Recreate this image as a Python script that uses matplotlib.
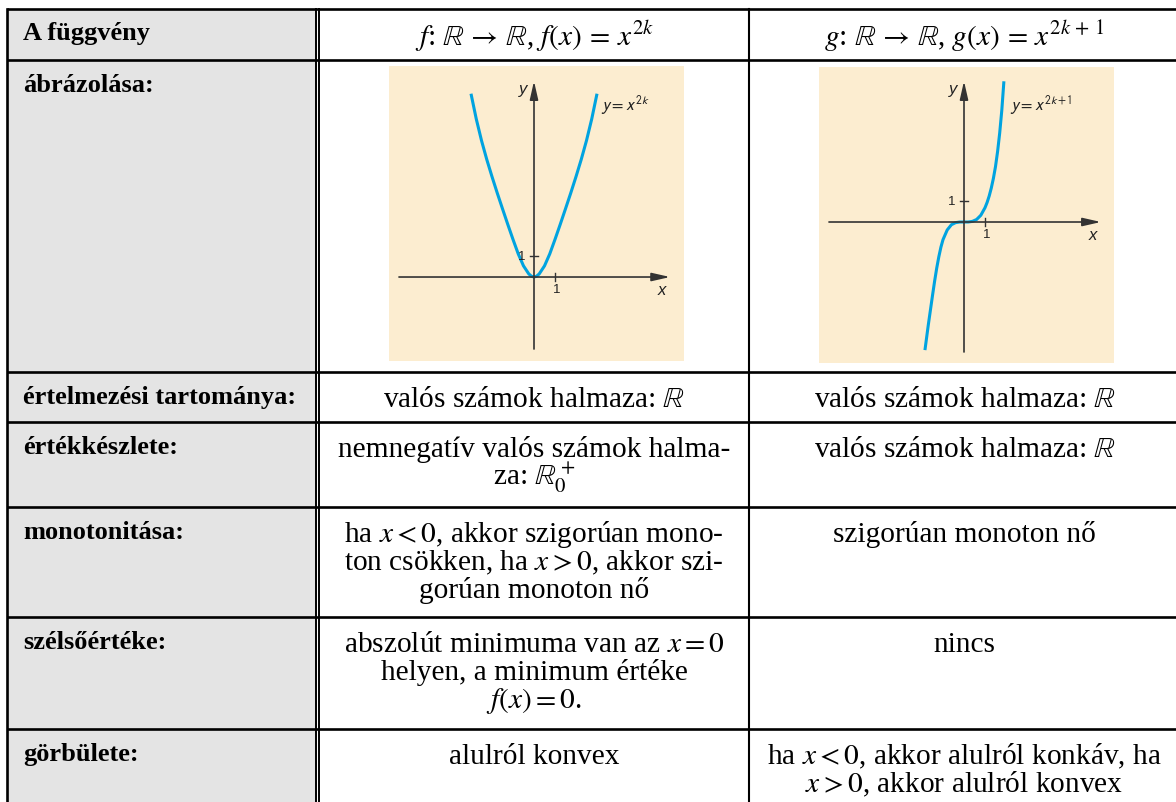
import matplotlib
matplotlib.use("Agg")
import matplotlib.pyplot as plt
from matplotlib.patches import Rectangle

plt.rcParams['font.family'] = ['Liberation Serif', 'DejaVu Serif']
plt.rcParams['mathtext.fontset'] = 'stix'

# --- table content ---
row_labels = ["A függvény", "ábrázolása:", "értelmezési tartománya:", "értékkészlete:",
              "monotonitása:", "szélsőértéke:", "görbülete:"]
head_f = r"$f$: $\mathbb{R} \,\rightarrow\, \mathbb{R}$, $f(x) \,=\, x^{2k}$"
head_g = r"$g$: $\mathbb{R} \,\rightarrow\, \mathbb{R}$, $g(x) \,=\, x^{2k\,+\,1}$"
cells_f = [
    [r"valós számok halmaza: $\mathbb{R}$"],
    ["nemnegatív valós számok halma-", r"za: $\mathbb{R}_0^+$"],
    [r"ha $x < 0$, akkor szigorúan mono-", r"ton csökken, ha $x > 0$, akkor szi-", "gorúan monoton nő"],
    [r"abszolút minimuma van az $x = 0$", "helyen, a minimum értéke", r"$f(x) = 0$."],
    ["alulról konvex"],
]
cells_g = [
    [r"valós számok halmaza: $\mathbb{R}$"],
    [r"valós számok halmaza: $\mathbb{R}$"],
    ["szigorúan monoton nő"],
    ["nincs"],
    [r"ha $x < 0$, akkor alulról konkáv, ha", r"$x > 0$, akkor alulról konvex"],
]

# --- curves (unit = 1 on the axes) ---
even_x = [-3.0, -2.75, -2.5, -2.25, -2.0, -1.75, -1.5, -1.25, -1.0, -0.75, -0.5, -0.25, -0.125, 0,
          0.125, 0.25, 0.5, 0.75, 1.0, 1.25, 1.5, 1.75, 2.0, 2.25, 2.5, 2.75, 3.0]
even_y = [8.73, 7.53, 6.5, 5.6, 4.78, 4.0, 3.25, 2.51, 1.79, 1.1, 0.53, 0.15, 0.04, 0,
          0.04, 0.15, 0.53, 1.1, 1.79, 2.51, 3.25, 4.0, 4.78, 5.6, 6.5, 7.53, 8.73]
odd_x = [-1.86, -1.8, -1.7, -1.6, -1.5, -1.4, -1.3, -1.2, -1.1, -1.0, -0.8, -0.6, -0.4, -0.2, 0,
         0.2, 0.4, 0.6, 0.8, 1.0, 1.1, 1.2, 1.3, 1.4, 1.5, 1.6, 1.7, 1.8, 1.9]
odd_y = [-6.1, -5.65, -4.9, -4.2, -3.5, -2.82, -2.2, -1.66, -1.2, -0.84, -0.38, -0.13, -0.03, 0, 0,
         0, 0.03, 0.12, 0.32, 0.68, 0.93, 1.24, 1.62, 2.08, 2.64, 3.36, 4.24, 5.32, 6.7]

W, H = 1176, 803
fig = plt.figure(figsize=(W / 100, H / 100), dpi=100)
tab = fig.add_axes([0, 0, 1, 1])
tab.set_xlim(0, W)
tab.set_ylim(H, 0)
tab.axis('off')

# table grid (pixel coordinates)
left, top, bottom, right = 7, 10, H, W
col1a, col1b, col2 = 315.7, 319.3, 749
row_lines = [10, 60.7, 372.7, 422.7, 508, 618, 730]

tab.add_patch(Rectangle((left, top), col1a - left, bottom - top, color='#e4e4e4', lw=0, zorder=0))
for y in row_lines:
    tab.plot([left, right], [y, y], color='black', lw=1.9, solid_capstyle='butt')
tab.plot([left, left], [top, bottom], color='black', lw=1.9)
tab.plot([col1a, col1a], [top, bottom], color='black', lw=1.4)
tab.plot([col1b, col1b], [top, bottom], color='black', lw=1.4)
tab.plot([col2, col2], [top, bottom], color='black', lw=1.5)

label_fs, body_fs = 19, 21.2
cf, cg = (col1b + col2) / 2, (col2 + W) / 2 + 2

# header
tab.text(23, 40, row_labels[0], fontsize=label_fs, fontweight='bold', va='baseline')
tab.text(cf, 46, head_f, fontsize=body_fs, ha='center', va='baseline')
tab.text(cg, 46, head_g, fontsize=body_fs, ha='center', va='baseline')

# row labels
for i, lab in enumerate(row_labels[1:]):
    tab.text(23, row_lines[i + 1] + 31, lab, fontsize=label_fs, fontweight='bold', va='baseline')

# body cells
for i, (lf, lg) in enumerate(zip(cells_f, cells_g)):
    y0 = row_lines[i + 2] + 34
    for j, s in enumerate(lf):
        tab.text(cf, y0 + 28 * j, s, fontsize=body_fs, ha='center', va='baseline')
    for j, s in enumerate(lg):
        tab.text(cg, y0 + 28 * j, s, fontsize=body_fs, ha='center', va='baseline')

# --- the two graphs ---
panel_bg = '#fcedd0'
curve_c = '#00a3e0'
axis_c = '#333333'


def graph(box, xlim, ylim, xs, ys, xaxis, yaxis, label, label_pos):
    x0, y0, x1, y1 = box
    ax = fig.add_axes([x0 / W, 1 - y1 / H, (x1 - x0) / W, (y1 - y0) / H])
    ax.set_facecolor(panel_bg)
    for s in ax.spines.values():
        s.set_visible(False)
    ax.set_xticks([])
    ax.set_yticks([])
    ax.set_xlim(*xlim)
    ax.set_ylim(*ylim)
    arrow = dict(arrowstyle='-|>,head_length=1.1,head_width=0.25', color=axis_c,
                 lw=1.2, shrinkA=0, shrinkB=0, mutation_scale=10)
    ax.annotate('', xy=(xaxis[1], 0), xytext=(xaxis[0], 0), arrowprops=arrow)
    ax.annotate('', xy=(0, yaxis[1]), xytext=(0, yaxis[0]), arrowprops=arrow)
    ax.plot([1, 1], [-0.18, 0.18], color=axis_c, lw=1.0)
    ax.plot([-0.18, 0.18], [1, 1], color=axis_c, lw=1.0)
    sans = dict(family=['Liberation Sans', 'DejaVu Sans'], color='#222222')
    ax.text(1.08, -0.56, '1', fontsize=9.5, ha='center', va='center', **sans)
    ax.text(-0.43, 1.0, '1', fontsize=9.5, ha='right', va='center', **sans)
    ax.text(xaxis[1] - 0.4, -0.6, 'x', fontsize=12, style='italic', ha='center', va='center', **sans)
    ax.text(-0.5, yaxis[1] - 0.35, 'y', fontsize=12, style='italic', ha='center', va='center', **sans)
    ax.text(label_pos[0], label_pos[1], label, fontsize=12, ha='left', va='center',
            math_fontfamily='stixsans', color='#222222')
    ax.plot(xs, ys, color=curve_c, lw=2.2, solid_capstyle='butt', solid_joinstyle='round')


graph((389, 67, 684, 362), (-6.905, 7.143), (-4.0, 10.05), even_x, even_y,
      (-6.43, 6.48), (-3.43, 9.33), r'$y = x^{2k}$', (3.2, 8.25))
graph((819, 68, 1114, 364), (-6.905, 7.143), (-6.714, 7.381), odd_x, odd_y,
      (-6.43, 6.52), (-6.19, 6.71), r'$y = x^{2k+1}$', (2.2, 5.63))

fig.savefig('out.png', dpi=100)
